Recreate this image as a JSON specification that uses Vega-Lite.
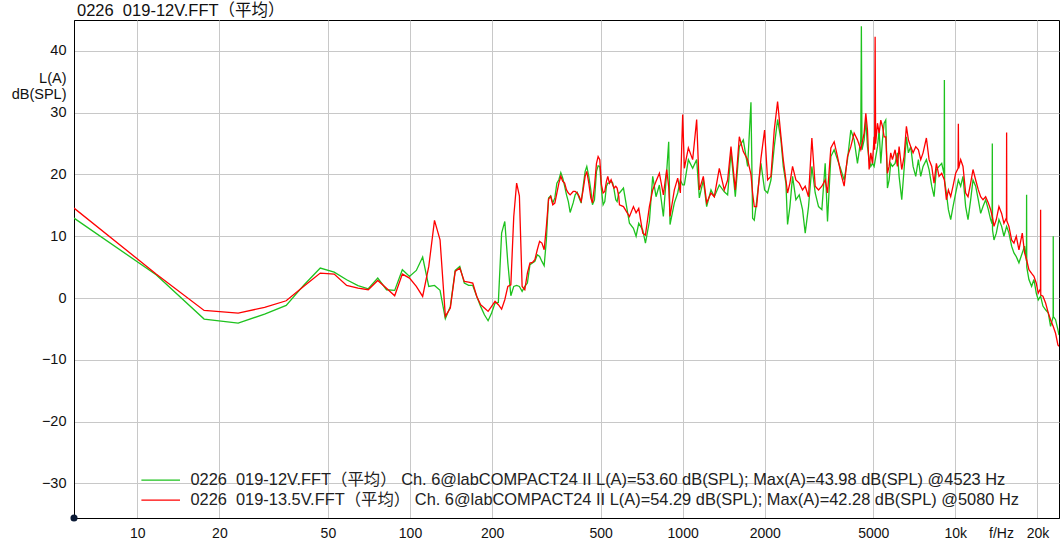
{
 "$schema": "https://vega.github.io/schema/vega-lite/v6.json",
 "width": 985, "height": 498,
 "autosize": {"type": "none"},
 "padding": {"left": 74, "top": 20, "right": 2, "bottom": 34},
 "background": "white",
 "config": {"view": {"stroke": "#000", "strokeWidth": 1}, "font": "Liberation Sans, Noto Sans CJK SC"},
 "title": {"text": "0226\u00a0 019-12V.FFT（平均）", "anchor": "start", "frame": "group", "dx": 3, "offset": 1, "fontSize": 16.5, "fontWeight": "normal", "color": "#111", "font": "Liberation Sans, Noto Sans CJK SC"},
 "datasets": {
  "g": [
   {"f":5.859,"v":12.94},{"f":11.72,"v":3.77},{"f":17.58,"v":-3.4},{"f":23.44,"v":-4.05},{"f":29.3,"v":-2.6},{"f":35.16,"v":-1.19},{"f":41.02,"v":2.2},{"f":46.88,"v":4.85},{"f":52.73,"v":4.2},{"f":58.59,"v":2.96},{"f":64.45,"v":2.0},{"f":70.31,"v":1.5},{"f":76.17,"v":3.23},{"f":82.03,"v":1.34},{"f":87.89,"v":1.24},{"f":93.75,"v":4.58},{"f":99.61,"v":3.5},{"f":105.5,"v":4.47},{"f":111.3,"v":6.63},{"f":117.2,"v":1.88},{"f":123.0,"v":2.04},{"f":128.9,"v":1.24},{"f":134.8,"v":-3.35},{"f":140.6,"v":-1.35},{"f":146.5,"v":4.47},{"f":152.3,"v":5.12},{"f":158.2,"v":2.42},{"f":164.1,"v":2.04},{"f":169.9,"v":2.04},{"f":175.8,"v":0.26},{"f":181.6,"v":-1.35},{"f":187.5,"v":-2.7},{"f":193.4,"v":-3.67},{"f":199.2,"v":-2.43},{"f":205.1,"v":-0.81},{"f":210.9,"v":-0.7},{"f":216.8,"v":10.5},{"f":222.7,"v":12.4},{"f":228.5,"v":5.66},{"f":234.4,"v":0.37},{"f":240.2,"v":1.88},{"f":246.1,"v":2.04},{"f":251.9,"v":1.88},{"f":257.8,"v":1.07},{"f":263.7,"v":1.88},{"f":269.5,"v":2.42},{"f":275.4,"v":5.39},{"f":281.3,"v":5.66},{"f":287.1,"v":5.93},{"f":293.0,"v":7.0},{"f":298.8,"v":6.74},{"f":304.7,"v":5.93},{"f":310.5,"v":5.23},{"f":316.4,"v":9.4},{"f":322.3,"v":16.2},{"f":328.1,"v":16.55},{"f":334.0,"v":15.37},{"f":339.8,"v":16.2},{"f":345.7,"v":18.6},{"f":351.6,"v":19.15},{"f":357.4,"v":20.3},{"f":363.3,"v":19.4},{"f":369.1,"v":18.1},{"f":375.0,"v":16.7},{"f":380.9,"v":15.6},{"f":386.7,"v":13.85},
   {"f":396.7,"v":15.4},{"f":403.4,"v":16.7},{"f":410.3,"v":17.1},{"f":417.3,"v":16.2},{"f":424.4,"v":15.4},{"f":431.6,"v":18.1},{"f":438.9,"v":20.5},{"f":445.1,"v":21.3},{"f":452.7,"v":19.7},{"f":460.4,"v":17.5},{"f":466.9,"v":15.1},{"f":474.9,"v":15.9},{"f":483.0,"v":20.5},{"f":489.8,"v":21.4},{"f":496.7,"v":21.3},{"f":503.8,"v":17.5},{"f":510.9,"v":15.1},{"f":518.1,"v":15.6},{"f":525.4,"v":18.1},{"f":531.4,"v":18.6},{"f":538.9,"v":18.6},{"f":546.5,"v":18.9},{"f":554.2,"v":18.6},{"f":560.5,"v":17.5},{"f":568.5,"v":15.9},{"f":574.9,"v":15.6},{"f":583.0,"v":17.0},
   {"f":586.4,"v":17.0},{"f":606.6,"v":17.8},{"f":638.1,"v":12.1},{"f":659.9,"v":11.3},{"f":674.9,"v":10.0},{"f":690.1,"v":12.1},{"f":714,"v":11.0},{"f":730.3,"v":8.9},{"f":755.1,"v":12.4},{"f":776.6,"v":19.7},{"f":798.7,"v":16.4},{"f":821.6,"v":18.3},{"f":849.7,"v":13.2},{"f":874,"v":20.5},{"f":888.8,"v":25.3},{"f":898.9,"v":11.9},{"f":932.3,"v":15.4},{"f":959,"v":17.0},{"f":980.8,"v":19.1},{"f":1000.2,"v":18.3},{"f":1014.4,"v":18.3},{"f":1049.3,"v":22.4},{"f":1088.2,"v":21.0},{"f":1125.6,"v":22.4},{"f":1151.3,"v":16.2},{"f":1190.8,"v":19.1},{"f":1224.7,"v":14.8},{"f":1270.3,"v":17.5},{"f":1306.4,"v":16.4},{"f":1362.7,"v":18.3},{"f":1421.4,"v":17.2},{"f":1462.1,"v":16.7},{"f":1504,"v":23.7},{"f":1560,"v":16.4},{"f":1613.6,"v":24.5},{"f":1668.9,"v":25.6},{"f":1730.9,"v":21.3},{"f":1780.2,"v":31.7},{"f":1805.4,"v":12.9},{"f":1830.9,"v":12.6},{"f":1867.5,"v":15.6},{"f":1937.1,"v":21.8},{"f":1997.7,"v":17.5},{"f":2049,"v":17.0},{"f":2107.5,"v":19.1},{"f":2167.5,"v":24.5},{"f":2229.3,"v":28.9},{"f":2292.8,"v":25.6},{"f":2338.6,"v":21.3},{"f":2391.5,"v":18.6},{"f":2425.3,"v":11.9},{"f":2473.8,"v":14.8},{"f":2529.7,"v":19.7},{"f":2601.8,"v":15.9},{"f":2676,"v":16.7},{"f":2752.2,"v":14.3},{"f":2815,"v":10.5},{"f":2895,"v":14.8},{"f":2977.6,"v":21.3},{"f":3062.9,"v":17.0},{"f":3150.1,"v":14.8},{"f":3239.8,"v":14.3},{"f":3332.2,"v":21.8},{"f":3398.4,"v":12.4},{"f":3495.3,"v":22.9},{"f":3594.9,"v":24.0},{"f":3697.3,"v":22.4},{"f":3802.7,"v":20.8},{"f":3911,"v":19.1},{"f":4022.5,"v":22.4},{"f":4137.1,"v":27.2},{"f":4255.7,"v":25.6},{"f":4376.2,"v":21.8},{"f":4500.8,"v":25.6},{"f":4523,"v":43.98},{"f":4546,"v":24},{"f":4630,"v":25.6},{"f":4696,"v":28.8},{"f":4762,"v":24.5},{"f":4829,"v":22.4},{"f":4897,"v":21.3},{"f":4966,"v":21.8},{"f":5037,"v":21.3},{"f":5182,"v":24.5},{"f":5255,"v":27.2},{"f":5329,"v":21.8},{"f":5405,"v":25.6},{"f":5481,"v":28.3},{"f":5558,"v":28.8},{"f":5636,"v":17.8},{"f":5716,"v":19.1},{"f":5797,"v":21.8},{"f":5879,"v":21.3},{"f":6013,"v":21.8},{"f":6132,"v":23.5},{"f":6220,"v":19.7},{"f":6361,"v":15.9},{"f":6486,"v":20.8},{"f":6616,"v":26.1},{"f":6728,"v":23.5},{"f":6862,"v":24.5},{"f":7000,"v":21.3},{"f":7158,"v":19.7},{"f":7321,"v":22.4},{"f":7466,"v":19.7},{"f":7615,"v":21.3},{"f":7832,"v":22.4},{"f":8011,"v":20.8},{"f":8193,"v":18.1},{"f":8356,"v":16.4},{"f":8522,"v":20.8},{"f":8716,"v":21.3},{"f":8914,"v":21.8},{"f":9100,"v":20},{"f":9117,"v":35.3},{"f":9135,"v":19},{"f":9273,"v":17.0},{"f":9431,"v":14.3},{"f":9616,"v":12.7},{"f":9808,"v":14.8},{"f":10030,"v":17.0},{"f":10259,"v":19.1},{"f":10462,"v":18.1},{"f":10670,"v":19.7},{"f":10911,"v":14.8},{"f":11130,"v":12.7},{"f":11381,"v":15.9},{"f":11609,"v":19.1},{"f":11874,"v":18.1},{"f":12143,"v":15.9},{"f":12386,"v":13.7},{"f":12632,"v":14.8},{"f":12919,"v":15.9},{"f":13213,"v":14.3},{"f":13475,"v":12.7},{"f":13640,"v":12},{"f":13666,"v":25},{"f":13690,"v":11},{"f":13860,"v":9.4},{"f":14134,"v":10.5},{"f":14454,"v":12.7},{"f":14784,"v":11.6},{"f":15077,"v":10.0},{"f":15421,"v":11.6},{"f":15726,"v":10.5},{"f":16085,"v":8.4},{"f":16406,"v":7.3},{"f":16730,"v":6.7},{"f":17112,"v":5.7},{"f":17600,"v":7.3},{"f":17948,"v":8.4},{"f":18230,"v":6},{"f":18256,"v":16.7},{"f":18280,"v":5},{"f":18617,"v":3.0},{"f":19042,"v":1.9},{"f":19422,"v":3.0},{"f":19808,"v":0.8},{"f":20145,"v":-0.3},{"f":20547,"v":0.3},{"f":20953,"v":-1.3},{"f":21429,"v":-1.9},{"f":21918,"v":-2.4},{"f":22352,"v":-4.6},{"f":22840,"v":-3},{"f":22862,"v":10},{"f":22885,"v":-3},{"f":23314,"v":-3.5},{"f":23780,"v":-5.1},{"f":24000,"v":-6.0}
  ],
  "r": [
   {"f":5.859,"v":14.56},{"f":11.72,"v":3.9},{"f":17.58,"v":-2.0},{"f":23.44,"v":-2.43},{"f":29.3,"v":-1.52},{"f":35.16,"v":-0.44},{"f":41.02,"v":2.0},{"f":46.88,"v":4.04},{"f":52.73,"v":3.88},{"f":58.59,"v":2.04},{"f":64.45,"v":1.6},{"f":70.31,"v":1.34},{"f":76.17,"v":2.85},{"f":82.03,"v":1.6},{"f":87.89,"v":0.37},{"f":93.75,"v":3.88},{"f":99.61,"v":3.23},{"f":105.5,"v":1.88},{"f":111.3,"v":0.26},{"f":117.2,"v":5.12},{"f":123.0,"v":12.57},{"f":128.9,"v":9.43},{"f":134.8,"v":-2.97},{"f":140.6,"v":-1.62},{"f":146.5,"v":4.31},{"f":152.3,"v":4.85},{"f":158.2,"v":2.69},{"f":164.1,"v":2.58},{"f":169.9,"v":2.42},{"f":175.8,"v":0.26},{"f":181.6,"v":-1.08},{"f":187.5,"v":-1.62},{"f":193.4,"v":-2.16},{"f":199.2,"v":-1.35},{"f":205.1,"v":-0.54},{"f":210.9,"v":-1.08},{"f":216.8,"v":-1.79},{"f":222.7,"v":-0.27},{"f":228.5,"v":1.88},{"f":234.4,"v":2.15},{"f":240.2,"v":13.2},{"f":246.1,"v":18.6},{"f":251.9,"v":16.55},{"f":257.8,"v":1.88},{"f":263.7,"v":1.34},{"f":269.5,"v":4.04},{"f":275.4,"v":5.66},{"f":281.3,"v":5.77},{"f":287.1,"v":6.2},{"f":293.0,"v":7.82},{"f":298.8,"v":9.17},{"f":304.7,"v":8.9},{"f":310.5,"v":7.82},{"f":316.4,"v":11.6},{"f":322.3,"v":16.0},{"f":328.1,"v":16.45},{"f":334.0,"v":15.1},{"f":339.8,"v":15.37},{"f":345.7,"v":17.0},{"f":351.6,"v":18.6},{"f":357.4,"v":19.7},{"f":363.3,"v":18.9},{"f":369.1,"v":18.6},{"f":375.0,"v":17.5},{"f":380.9,"v":17.0},{"f":386.7,"v":16.7},
   {"f":396.7,"v":17.25},{"f":403.4,"v":17.25},{"f":410.3,"v":17.0},{"f":417.3,"v":16.45},{"f":424.4,"v":15.64},{"f":431.6,"v":17.5},{"f":438.9,"v":19.7},{"f":445.1,"v":20.5},{"f":452.7,"v":18.6},{"f":460.4,"v":16.2},{"f":466.9,"v":15.4},{"f":474.9,"v":18.1},{"f":483.0,"v":21.8},{"f":489.8,"v":22.9},{"f":496.7,"v":22.4},{"f":503.8,"v":18.3},{"f":510.9,"v":17.0},{"f":518.1,"v":17.25},{"f":525.4,"v":18.9},{"f":531.4,"v":19.7},{"f":538.9,"v":18.6},{"f":546.5,"v":19.15},{"f":554.2,"v":18.3},{"f":560.5,"v":17.8},{"f":568.5,"v":18.1},{"f":574.9,"v":17.8},{"f":583.0,"v":16.45},
   {"f":586.4,"v":15.1},{"f":606.6,"v":14.8},{"f":638.1,"v":13.2},{"f":659.9,"v":14.8},{"f":674.9,"v":13.8},{"f":690.1,"v":14.5},{"f":714,"v":10.5},{"f":730.3,"v":10.2},{"f":755.1,"v":14.8},{"f":776.6,"v":17.5},{"f":798.7,"v":18.9},{"f":821.6,"v":20.2},{"f":849.7,"v":16.7},{"f":874,"v":20.8},{"f":888.8,"v":18.0},{"f":898.9,"v":13.2},{"f":932.3,"v":17.5},{"f":959,"v":19.4},{"f":980.8,"v":17.0},{"f":1000.2,"v":29.7},{"f":1014.4,"v":21.0},{"f":1049.3,"v":24.3},{"f":1088.2,"v":22.4},{"f":1125.6,"v":28.9},{"f":1151.3,"v":17.5},{"f":1190.8,"v":19.7},{"f":1224.7,"v":15.4},{"f":1270.3,"v":17.0},{"f":1306.4,"v":16.4},{"f":1362.7,"v":21.0},{"f":1421.4,"v":17.5},{"f":1462.1,"v":19.1},{"f":1504,"v":24.5},{"f":1560,"v":17.5},{"f":1613.6,"v":26.1},{"f":1668.9,"v":23.7},{"f":1730.9,"v":22.4},{"f":1780.2,"v":20.0},{"f":1805.4,"v":17.0},{"f":1830.9,"v":14.8},{"f":1867.5,"v":14.8},{"f":1937.1,"v":22.6},{"f":1997.7,"v":27.2},{"f":2049,"v":19.1},{"f":2107.5,"v":19.7},{"f":2167.5,"v":27.2},{"f":2229.3,"v":31.8},{"f":2292.8,"v":26.2},{"f":2338.6,"v":22.4},{"f":2391.5,"v":19.1},{"f":2425.3,"v":17.0},{"f":2473.8,"v":18.6},{"f":2529.7,"v":21.3},{"f":2601.8,"v":19.1},{"f":2676,"v":18.6},{"f":2752.2,"v":17.5},{"f":2815,"v":18.1},{"f":2895,"v":16.4},{"f":2977.6,"v":25.9},{"f":3062.9,"v":18.1},{"f":3150.1,"v":17.5},{"f":3239.8,"v":18.1},{"f":3332.2,"v":19.1},{"f":3398.4,"v":17.0},{"f":3495.3,"v":24.3},{"f":3594.9,"v":25.3},{"f":3697.3,"v":22.9},{"f":3802.7,"v":20.2},{"f":3911,"v":18.1},{"f":4022.5,"v":22.9},{"f":4137.1,"v":24.5},{"f":4255.7,"v":26.7},{"f":4376.2,"v":25.6},{"f":4500.8,"v":24.0},{"f":4630,"v":26.7},{"f":4696,"v":29.9},{"f":4762,"v":27.2},{"f":4829,"v":20.8},{"f":4897,"v":23.5},{"f":4966,"v":21.8},{"f":5037,"v":26.1},{"f":5058,"v":24},{"f":5080,"v":42.28},{"f":5102,"v":25},{"f":5182,"v":28.3},{"f":5255,"v":26.7},{"f":5329,"v":28.8},{"f":5405,"v":27.8},{"f":5481,"v":26.1},{"f":5558,"v":26.1},{"f":5636,"v":20.2},{"f":5716,"v":21.3},{"f":5797,"v":23.5},{"f":5879,"v":22.4},{"f":6013,"v":24.0},{"f":6132,"v":21.3},{"f":6220,"v":24.5},{"f":6361,"v":20.8},{"f":6486,"v":22.9},{"f":6616,"v":27.8},{"f":6728,"v":25.6},{"f":6862,"v":24.5},{"f":7000,"v":23.5},{"f":7158,"v":24.5},{"f":7321,"v":24.0},{"f":7466,"v":22.4},{"f":7615,"v":23.5},{"f":7832,"v":25.9},{"f":8011,"v":22.4},{"f":8193,"v":21.3},{"f":8356,"v":18.6},{"f":8522,"v":21.8},{"f":8716,"v":19.7},{"f":8914,"v":20.2},{"f":9117,"v":19.1},{"f":9273,"v":15.9},{"f":9431,"v":17.5},{"f":9616,"v":16.4},{"f":9808,"v":18.1},{"f":10030,"v":20.2},{"f":10235,"v":21},{"f":10259,"v":28.2},{"f":10285,"v":21},{"f":10462,"v":22.4},{"f":10670,"v":21.3},{"f":10911,"v":17.0},{"f":11130,"v":16.4},{"f":11381,"v":18.6},{"f":11609,"v":20.8},{"f":11874,"v":19.1},{"f":12143,"v":17.5},{"f":12386,"v":16.4},{"f":12632,"v":15.9},{"f":12919,"v":16.4},{"f":13213,"v":15.4},{"f":13475,"v":14.3},{"f":13666,"v":13.2},{"f":13860,"v":11.6},{"f":14134,"v":12.7},{"f":14454,"v":14.8},{"f":14784,"v":13.7},{"f":15077,"v":12.1},{"f":15400,"v":13},{"f":15421,"v":26.8},{"f":15445,"v":12.5},{"f":15726,"v":11.6},{"f":16085,"v":9.4},{"f":16406,"v":8.9},{"f":16730,"v":10.0},{"f":17112,"v":7.8},{"f":17600,"v":10.5},{"f":17948,"v":7.3},{"f":18256,"v":6.2},{"f":18617,"v":4.6},{"f":19042,"v":4.0},{"f":19422,"v":3.5},{"f":19808,"v":2.4},{"f":20145,"v":0.8},{"f":20525,"v":1.5},{"f":20547,"v":14.3},{"f":20570,"v":0.5},{"f":20953,"v":0.3},{"f":21429,"v":-0.8},{"f":21918,"v":-2.4},{"f":22352,"v":-3.5},{"f":22862,"v":-4.6},{"f":23314,"v":-5.7},{"f":23780,"v":-7.6},{"f":24000,"v":-7.8}
  ]
 },
 "layer": [
  {
   "data": {"name": "g"},
   "mark": {"type": "line", "strokeWidth": 1.3, "clip": true},
   "encoding": {
    "x": {"field": "f", "type": "quantitative",
      "scale": {"type": "log", "domain": [5.859, 24000], "nice": false, "zero": false},
      "axis": {"values": [10,20,50,100,200,500,1000,2000,5000,10000,20000],
        "labelExpr": "datum.value >= 10000 ? format(datum.value/1000, 'd') + 'k' : format(datum.value, 'd')",
        "grid": true, "gridColor": "#c8c8c8", "gridWidth": 1, "ticks": false,
        "domainColor": "#000", "labelFontSize": 14, "labelColor": "#111", "labelPadding": 8, "labelFlush": false, "labelOverlap": false,
        "title": "f/Hz", "titleX": 927, "titleY": 8, "titleAngle": 0, "titleAlign": "center", "titleBaseline": "top", "titleFontSize": 14, "titleFontWeight": "normal", "titleColor": "#111"}},
    "y": {"field": "v", "type": "quantitative",
      "scale": {"domain": [-35.6, 45.0], "nice": false, "zero": false},
      "axis": {"values": [-30,-20,-10,0,10,20,30,40], "grid": true, "gridColor": "#c8c8c8", "gridWidth": 1, "ticks": false,
        "domainColor": "#000", "labelFontSize": 14.5, "labelColor": "#111", "labelPadding": 8,
        "title": ["L(A)", "dB(SPL)"], "titleX": -8, "titleY": 51, "titleAngle": 0, "titleAlign": "right", "titleBaseline": "top", "titleFontSize": 14.5, "titleFontWeight": "normal", "titleColor": "#111", "titleLineHeight": 16}},
    "color": {"datum": "0226\u00a0 019-12V.FFT（平均） Ch. 6@labCOMPACT24 II L(A)=53.60 dB(SPL); Max(A)=43.98 dB(SPL) @4523 Hz", "type": "nominal",
      "scale": {"domain": ["0226\u00a0 019-12V.FFT（平均） Ch. 6@labCOMPACT24 II L(A)=53.60 dB(SPL); Max(A)=43.98 dB(SPL) @4523 Hz", "0226\u00a0 019-13.5V.FFT（平均） Ch. 6@labCOMPACT24 II L(A)=54.29 dB(SPL); Max(A)=42.28 dB(SPL) @5080 Hz"], "range": ["#1ec21e", "#ff0000"]},
      "legend": {"orient": "none", "legendX": 78.5, "legendY": 452, "title": null, "symbolType": "M-3.86,0H3.86", "symbolSize": 100, "symbolStrokeWidth": 1.2, "symbolFillColor": "transparent", "labelFontSize": 16.4, "labelLimit": 0, "labelOffset": 21.5, "labelColor": "#222", "padding": 0, "rowPadding": 3}}
   }
  },
  {
   "data": {"name": "r"},
   "mark": {"type": "line", "strokeWidth": 1.3, "clip": true},
   "encoding": {
    "x": {"field": "f", "type": "quantitative"},
    "y": {"field": "v", "type": "quantitative"},
    "color": {"datum": "0226\u00a0 019-13.5V.FFT（平均） Ch. 6@labCOMPACT24 II L(A)=54.29 dB(SPL); Max(A)=42.28 dB(SPL) @5080 Hz", "type": "nominal"}
   }
  },
  {
   "data": {"values": [{"f": 5.859, "v": -35.6}]},
   "mark": {"type": "point", "filled": true, "size": 50, "color": "#0b1a36", "opacity": 1, "clip": false},
   "encoding": {
    "x": {"field": "f", "type": "quantitative"},
    "y": {"field": "v", "type": "quantitative"}
   }
  }
 ]
}
